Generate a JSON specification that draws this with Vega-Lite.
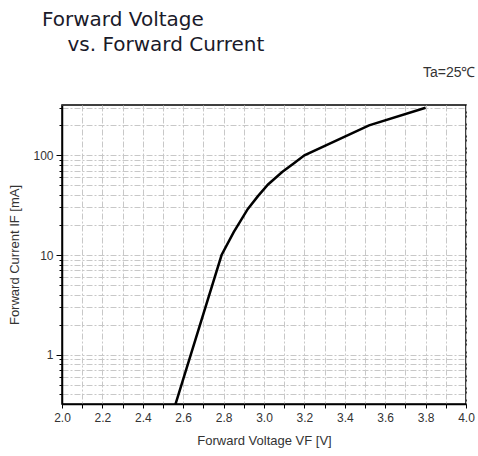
{
  "$schema": "https://vega.github.io/schema/vega-lite/v6.json",
  "width": 404,
  "height": 299,
  "autosize": {"type": "none"},
  "padding": {"left": 62, "top": 105, "right": 12, "bottom": 52},
  "background": "white",
  "title": {
    "text": ["Forward Voltage", "\u200b\u00a0\u00a0\u00a0\u00a0vs. Forward Current"],
    "anchor": "start",
    "frame": "group",
    "dx": -20,
    "offset": 10,
    "font": "DejaVu Sans",
    "fontSize": 20,
    "fontWeight": "normal",
    "color": "#1a1a2a",
    "lineHeight": 25
  },
  "data": {
    "values": [
      {"voltage": 2.56, "current": 0.31},
      {"voltage": 2.79, "current": 10},
      {"voltage": 2.85, "current": 17},
      {"voltage": 2.92, "current": 29},
      {"voltage": 2.97, "current": 39},
      {"voltage": 3.02, "current": 51},
      {"voltage": 3.09, "current": 68},
      {"voltage": 3.15, "current": 84},
      {"voltage": 3.2, "current": 100},
      {"voltage": 3.52, "current": 200},
      {"voltage": 3.8, "current": 300}
    ]
  },
  "layer": [
    {
      "mark": {"type": "line", "color": "black", "strokeWidth": 2.5, "clip": true},
      "encoding": {
        "x": {
          "field": "voltage", "type": "quantitative",
          "scale": {"domain": [2, 4], "nice": false, "zero": false},
          "axis": {
            "title": "Forward Voltage VF [V]",
            "values": [2.0, 2.1, 2.2, 2.3, 2.4, 2.5, 2.6, 2.7, 2.8, 2.9, 3.0, 3.1, 3.2, 3.3, 3.4, 3.5, 3.6, 3.7, 3.8, 3.9, 4.0],
            "labelExpr": "round(datum.value*10) % 2 == 0 ? format(datum.value, '.1f') : ''",
            "labelFlush": false,
            "labelOverlap": false,
            "tickSize": 4,
            "labelPadding": 4,
            "titlePadding": 11
          }
        },
        "y": {
          "field": "current", "type": "quantitative",
          "scale": {"type": "log", "domain": [0.32, 320], "nice": false},
          "axis": {
            "title": "Forward Current IF [mA]",
            "values": [0.4, 0.5, 0.6, 0.7, 0.8, 0.9, 1, 2, 3, 4, 5, 6, 7, 8, 9, 10, 20, 30, 40, 50, 60, 70, 80, 90, 100, 200, 300],
            "labelExpr": "datum.value == 1 ? '1' : datum.value == 10 ? '10' : datum.value == 100 ? '100' : ''",
            "labelOverlap": false,
            "tickSize": {"condition": {"test": "datum.value == 1 || datum.value == 10 || datum.value == 100", "value": 6}, "value": 3},
            "labelPadding": 3,
            "titlePadding": 11
          }
        }
      }
    },
    {
      "mark": {"type": "line", "opacity": 0},
      "encoding": {
        "x": {
          "field": "voltage", "type": "quantitative",
          "axis": {
            "orient": "top",
            "title": "Ta=25\u2103",
            "labels": false, "ticks": false, "domain": false, "grid": false,
            "titleAnchor": "end",
            "titleAlign": "right",
            "titleX": 413,
            "titleY": -33,
            "titleBaseline": "middle",
            "titleFont": "Liberation Sans",
            "titleFontSize": 14,
            "titleFontWeight": "normal",
            "titleColor": "#333333"
          }
        },
        "y": {"field": "current", "type": "quantitative"}
      }
    }
  ],
  "resolve": {"axis": {"x": "independent"}},
  "config": {
    "view": {"stroke": "black", "strokeWidth": 1.5},
    "axis": {
      "domainColor": "black",
      "domainWidth": 1.5,
      "tickColor": "black",
      "tickWidth": 1,
      "gridColor": "#c8c8c8",
      "gridDash": [6, 2, 2, 2],
      "gridWidth": 1,
      "labelFont": "Liberation Sans",
      "labelFontSize": 12,
      "labelColor": "#333333",
      "titleFont": "Liberation Sans",
      "titleFontSize": 13,
      "titleFontWeight": "normal",
      "titleColor": "#333333"
    }
  }
}
